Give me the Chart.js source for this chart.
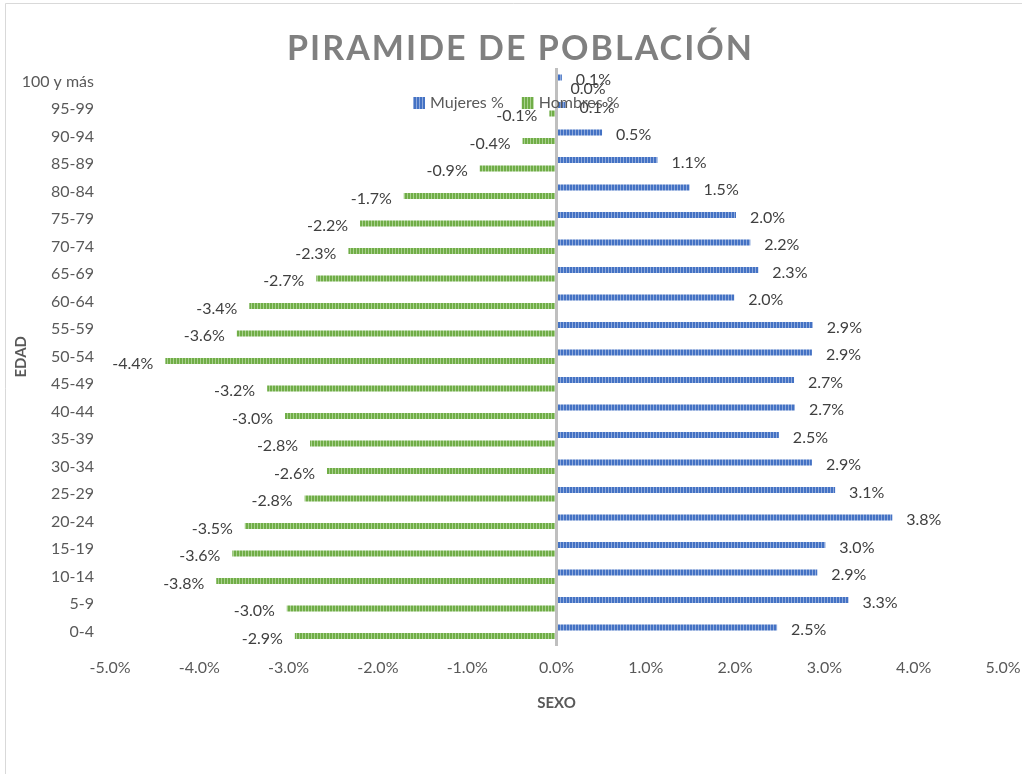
<!DOCTYPE html>
<html><head><meta charset="utf-8">
<script src="https://cdn.jsdelivr.net/npm/chart.js@4.4.0/dist/chart.umd.min.js"></script>
<style>html,body{margin:0;padding:0;background:#fff;overflow:hidden}#wrap{width:1022px;height:774px;position:relative}canvas{display:block}</style>
</head><body><div id="wrap"><canvas id="c" width="1022" height="774"></canvas></div>
<script>
const categories = ['0-4','5-9','10-14','15-19','20-24','25-29','30-34','35-39','40-44','45-49','50-54','55-59','60-64','65-69','70-74','75-79','80-84','85-89','90-94','95-99','100 y más'];
const mujeres = [2.47,3.27,2.92,3.01,3.76,3.12,2.86,2.49,2.67,2.66,2.86,2.87,1.99,2.26,2.17,2.01,1.49,1.13,0.51,0.10,0.06];
const hombres = [-2.93,-3.02,-3.81,-3.63,-3.49,-2.82,-2.57,-2.76,-3.04,-3.24,-4.38,-3.58,-3.44,-2.69,-2.33,-2.20,-1.71,-0.86,-0.38,-0.08,0];
const xTicks = [-5,-4,-3,-2,-1,0,1,2,3,4,5];
const seriesNames = ['Mujeres %','Hombres %'];
const titleText = 'PIRAMIDE DE POBLACIÓN';

function stripe(c1, c2){
  const p = document.createElement('canvas'); p.width = 3; p.height = 4;
  const g = p.getContext('2d');
  g.fillStyle = c1; g.fillRect(0,0,3,4);
  g.fillStyle = c2; g.fillRect(2,0,1,4);
  return g.createPattern(p,'repeat');
}
const ctx = document.getElementById('c').getContext('2d');
const bluePat = stripe('#4472C4','#8faadc');
const greenPat = stripe('#70AD47','#a9d18e');
const FONT = 'Lato';

const framePlugin = {
  id:'frame',
  beforeDraw(chart){
    const c = chart.ctx; c.save();
    c.fillStyle = '#fff'; c.fillRect(0,0,chart.width,chart.height);
    c.strokeStyle = '#d9d9d9'; c.lineWidth = 1;
    c.beginPath(); c.moveTo(5.5,774); c.lineTo(5.5,3.5); c.lineTo(1022,3.5); c.stroke();
    c.restore();
  }
};
const labelPlugin = {
  id:'vals',
  afterDatasetsDraw(chart){
    const c = chart.ctx; c.save();
    c.font = '16px ' + FONT; c.fillStyle = '#404040'; c.textBaseline = 'middle';
    chart.data.datasets.forEach((ds, di) => {
      const meta = chart.getDatasetMeta(di);
      meta.data.forEach((el, i) => {
        const v = ds.data[i];
        const txt = v.toFixed(1) + '%';
        if (v >= 0) { c.textAlign = 'left'; c.fillText(txt, el.x + 14, el.y + 2.5); }
        else { c.textAlign = 'right'; c.fillText(txt, el.x - 12, el.y + 2.5); }
      });
    });
    c.restore();
  }
};
const overlayPlugin = {
  id:'overlay',
  afterDraw(chart){
    const c = chart.ctx; c.save();
    c.font = '16px ' + FONT; c.textBaseline = 'middle'; c.textAlign = 'left';
    const pats = [bluePat, greenPat];
    let x = 413; const y = 103;
    chart.data.datasets.forEach((ds, i) => {
      c.fillStyle = pats[i]; c.fillRect(x, y-6, 12, 12);
      c.fillStyle = '#595959'; c.fillText(ds.label, x + 17, y);
      x += 17 + c.measureText(ds.label).width + 18;
    });
    c.font = 'bold 34px ' + FONT;
    c.fillStyle = '#808080'; c.textBaseline = 'alphabetic'; c.textAlign = 'left';
    const target = 465;
    const w0 = c.measureText(titleText).width;
    const sp = (target - w0) / (titleText.length - 1);
    c.letterSpacing = sp + 'px';
    c.fillText(titleText, 287, 60);
    c.letterSpacing = '0px';
    c.restore();
  }
};

new Chart(ctx, {
  type:'bar',
  data:{
    labels:categories,
    datasets:[
      {label:seriesNames[0], data:mujeres, backgroundColor:bluePat, borderWidth:0, categoryPercentage:0.62, barPercentage:0.72},
      {label:seriesNames[1], data:hombres, backgroundColor:greenPat, borderWidth:0, categoryPercentage:0.62, barPercentage:0.72}
    ]
  },
  options:{
    indexAxis:'y', responsive:false, animation:false,
    layout:{padding:{top:68,right:0,left:0,bottom:0}},
    plugins:{legend:{display:false}, title:{display:false}, tooltip:{enabled:false}},
    scales:{
      x:{
        type:'linear', min:-5, max:5,
        afterBuildTicks(s){ s.ticks = xTicks.map(v => ({value:v})); },
        ticks:{callback:v => Number(v).toFixed(1) + '%', color:'#595959', font:{family:FONT, size:16}, padding:13, maxRotation:0},
        grid:{drawTicks:false, lineWidth:3, color:c => (c.tick && c.tick.value === 0) ? '#bfbfbf' : 'rgba(0,0,0,0)'},
        border:{display:false},
        title:{display:true, text:'SEXO', color:'#595959', font:{family:FONT, size:15, weight:'bold'}, padding:{top:0,bottom:62}},
        afterFit(s){ s.height = 128.5; s.paddingRight = 19; s.paddingLeft = 0; }
      },
      y:{
        reverse:true,
        ticks:{color:'#595959', font:{family:FONT, size:16}, padding:8, autoSkip:false},
        grid:{display:false}, border:{display:false},
        title:{display:true, text:'EDAD', color:'#595959', font:{family:FONT, size:15, weight:'bold'}, padding:{top:12,bottom:0}},
        afterFit(s){ s.width = 110; }
      }
    }
  },
  plugins:[framePlugin, labelPlugin, overlayPlugin]
});
</script></body></html>
